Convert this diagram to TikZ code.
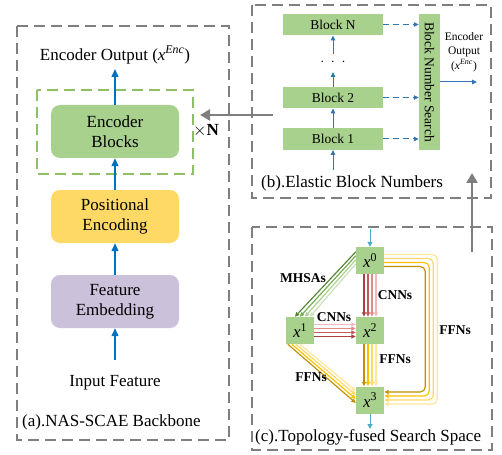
\documentclass[tikz,border=0pt]{standalone}
\usepackage{fontspec}
\setmainfont{Liberation Serif}
\usetikzlibrary{arrows.meta}
\definecolor{pgray}{HTML}{7F7F7F}
\definecolor{gfill}{HTML}{A9D18E}
\definecolor{yfill}{HTML}{FFD966}
\definecolor{lfill}{HTML}{CCC1DA}
\definecolor{gdash}{HTML}{8CC063}
\definecolor{ablue}{HTML}{0070C0}
\definecolor{bblue}{HTML}{2E75B6}
\definecolor{lblue}{HTML}{4BACC6}
\definecolor{g0}{HTML}{548235}
\definecolor{g1}{HTML}{70AD47}
\definecolor{g2}{HTML}{A9D18E}
\definecolor{g3}{HTML}{C5E0B4}
\definecolor{r0}{HTML}{A93F3F}
\definecolor{r1}{HTML}{C55A5A}
\definecolor{r2}{HTML}{E08A8A}
\definecolor{r3}{HTML}{F2B8B8}
\definecolor{y0}{HTML}{BF9000}
\definecolor{y1}{HTML}{FFC000}
\definecolor{y2}{HTML}{FFD966}
\definecolor{y3}{HTML}{FFE699}
\begin{document}
\begin{tikzpicture}[x=1pt,y=-1pt,
  panel/.style={draw=pgray,line width=1.8pt,dash pattern=on 11pt off 6pt},
  bigfont/.style={font=\fontsize{17}{20}\selectfont},
  rbox/.style={rounded corners=9pt,minimum width=128pt,minimum height=53pt,align=center,bigfont,inner sep=0pt},
  blk/.style={fill=gfill,minimum width=100pt,minimum height=21.5pt,inner sep=0pt,font=\fontsize{13.5}{15}\selectfont},
  xnode/.style={fill=gfill,minimum width=28pt,minimum height=27pt,inner sep=0pt,font=\fontsize{17}{20}\selectfont},
  blab/.style={font=\bfseries\fontsize{13.5}{15}\selectfont,inner sep=0pt},
  barrow/.style={draw=ablue,line width=1.3pt,-{Triangle[length=8pt,width=7pt]}},
  sarrow/.style={draw=bblue,line width=1pt,-{Triangle[length=5pt,width=4.5pt]}},
  garrow/.style={draw=pgray,line width=2.6pt,-{Triangle[length=10pt,width=11pt]}},
  bund/.style={line width=1.15pt,-{Triangle[length=4.5pt,width=4pt]}},
  captext/.style={bigfont,anchor=west,inner sep=0pt}
]
\useasboundingbox (0,0) rectangle (502,454);

% ---------- panel (a)
\draw[panel] (17,26) rectangle (229,440);
\draw[draw=gdash,line width=1.5pt,dash pattern=on 11pt off 6pt] (37,90) rectangle (193,174);
\node[rbox,fill=gfill] (eb) at (115,131.5) {Encoder\\Blocks};
\node[rbox,fill=yfill] (pe) at (115,216.5) {Positional\\Encoding};
\node[rbox,fill=lfill] (fe) at (115,301.5) {Feature\\Embedding};
\node[bigfont,inner sep=0pt] (eo) at (115,55) {Encoder Output (\textit{x}\textsuperscript{\textit{Enc}})};
\node[bigfont,inner sep=0pt] (inf) at (115,383) {Input Feature};
\coordinate (inp) at (115,360);
\coordinate (outp) at (115,69);
\draw[barrow] (inp) -- (fe);
\draw[barrow] (fe) -- (pe);
\draw[barrow] (pe) -- (eb);
\draw[barrow] (eb) -- (outp);
\node[font=\fontsize{17}{20}\selectfont,inner sep=0pt] (xn) at (206,131) {$\times$\textbf{N}};
\node[captext] (capa) at (22,422) {(a).NAS-SCAE Backbone};

% ---------- panel (b)
\draw[panel] (252,5) rectangle (491,198);
\node[blk] (bn) at (333,24.5) {Block N};
\node[blk] (b2) at (333,97.5) {Block 2};
\node[blk] (b1) at (333,139) {Block 1};
\node[inner sep=0pt,font=\fontsize{13.5}{15}\selectfont] (dots) at (333,62) {$\cdot\ \cdot\ \cdot$};
\node[fill=gfill,minimum width=21pt,minimum height=136pt,inner sep=0pt] (bns) at (429.5,82) {};
\node[rotate=-90,font=\fontsize{13.5}{15}\selectfont,inner sep=0pt] (bnst) at (bns.center) {Block Number Search};
\coordinate (bin) at (333,170);
\coordinate (d1) at (333,72);
\coordinate (d2) at (333,54);
\draw[sarrow] (bin) -- (b1);
\draw[sarrow] (b1) -- (b2);
\draw[sarrow] (b2) -- (d1);
\draw[sarrow] (d2) -- (bn);
\draw[sarrow,dash pattern=on 6pt off 4pt] (bn.east) -- (bns.west |- bn.east);
\draw[sarrow,dash pattern=on 6pt off 4pt] (b2.east) -- (bns.west |- b2.east);
\draw[sarrow,dash pattern=on 6pt off 4pt] (b1.east) -- (bns.west |- b1.east);
\coordinate (bout) at (477,82);
\draw[sarrow] (bns.east |- bout) -- (bout);
\node[align=center,font=\fontsize{11.5}{14.5}\selectfont,inner sep=0pt] (beo) at (464,52) {Encoder\\Output\\(\textit{x}\textsuperscript{\textit{Enc}})};
\node[captext] (capb) at (261,183) {(b).Elastic Block Numbers};

% ---------- panel (c)
\draw[panel] (252,227) rectangle (492,450);
\node[xnode] (x0) at (370,260.5) {\textit{x}\textsuperscript{0}};
\node[xnode] (x1) at (300,330.5) {\textit{x}\textsuperscript{1}};
\node[xnode] (x2) at (370,330.5) {\textit{x}\textsuperscript{2}};
\node[xnode] (x3) at (370,400) {\textit{x}\textsuperscript{3}};
\coordinate (cin) at (370,229);
\coordinate (cout) at (370,429);
\draw[draw=lblue,line width=1pt,-{Triangle[length=5pt,width=5pt]}] (cin) -- (x0);
\draw[draw=lblue,line width=1pt,-{Triangle[length=5pt,width=5pt]}] (x3) -- (cout);
% x0 -> x1 (MHSAs)
\foreach \i/\c in {0/g0,1/g1,2/g2,3/g3}
  \draw[bund,\c] ([yshift=-5-4*\i]x0.north west) -- ([xshift=9+5*\i]x1.north west);
% x0 -> x2 (CNNs)
\foreach \i/\c in {0/r0,1/r1,2/r2,3/r3}
  \draw[bund,\c] ([xshift=-6+4*\i]x0.south) -- ([xshift=-6+4*\i]x2.north);
% x1 -> x2 (CNNs)
\foreach \i/\c in {0/r0,1/r1,2/r2,3/r3}
  \draw[bund,\c] ([yshift=-6+4*\i]x1.east) -- ([yshift=-6+4*\i]x2.west);
% x2 -> x3 (FFNs)
\foreach \i/\c in {0/y0,1/y1,2/y2,3/y3}
  \draw[bund,\c] ([xshift=-6+4*\i]x2.south) -- ([xshift=-6+4*\i]x3.north);
% x1 -> x3 (FFNs)
\foreach \i/\c in {0/y0,1/y1,2/y2,3/y3}
  \draw[bund,\c] ([xshift=2+4*\i]x1.south west) -- ([yshift=-3+4*\i]x3.west);
% x0 -> x3 (FFNs)
\foreach \i/\c in {0/y0,1/y1,2/y2,3/y3}
  \draw[bund,\c,rounded corners=5pt] ([yshift=-6+4*\i]x0.east) -- ++(41+4*\i,0) |- ([yshift=8-4*\i]x3.east);
\node[blab] (lm) at (303,278) {MHSAs};
\node[blab] (lc1) at (395,295) {CNNs};
\node[blab] (lc2) at (334,317) {CNNs};
\node[blab] (lf1) at (455,330) {FFNs};
\node[blab] (lf2) at (395,359) {FFNs};
\node[blab] (lf3) at (311,377) {FFNs};
\node[captext] (capc) at (255,437) {(c).Topology-fused Search Space};

% ---------- gray connectors
\coordinate (ga) at (273,115);
\coordinate (gat) at (200,115);
\coordinate (gb) at (472,252);
\coordinate (gbt) at (472,173);
\draw[garrow] (ga) -- (gat);
\draw[garrow] (gb) -- (gbt);
\end{tikzpicture}
\end{document}
